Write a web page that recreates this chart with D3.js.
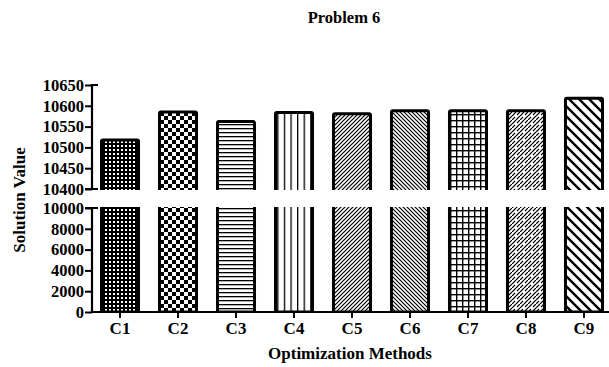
<!DOCTYPE html>
<html><head><meta charset="utf-8">
<script src="https://cdn.jsdelivr.net/npm/d3@7"></script>
<style>body{margin:0;background:#fff}svg{display:block}text{font-family:"Liberation Serif","Times New Roman",serif;font-weight:bold;fill:#000}</style>
</head><body><svg id="c" width="609" height="367"></svg>
<script>
const categories = ["C1","C2","C3","C4","C5","C6","C7","C8","C9"];
const values = [10518, 10585, 10562, 10584, 10581, 10588, 10588, 10588, 10618];
const patterns = ["dots","checker","hlines","vlines","fdiag","bdiag","grid","fdiag2","bdiagwide"];
const upperTicks = [10400,10450,10500,10550,10600,10650];
const lowerTicks = [0,2000,4000,6000,8000,10000];
const title = "Problem 6", xTitle = "Optimization Methods", yTitle = "Solution Value";

const svg = d3.select("#c");
const x = d3.scaleBand().domain(categories).range([92,612]).paddingInner(0.31).paddingOuter(0.138);
const yTop = d3.scaleLinear().domain([10400,10650]).range([189,85]);
const yBot = d3.scaleLinear().domain([0,10000]).range([312,208]);

const defs = svg.append("defs");
function pat(id, size, build, bg){
  const p = defs.append("pattern").attr("id",id).attr("patternUnits","userSpaceOnUse").attr("width",size).attr("height",size);
  p.append("rect").attr("width",size).attr("height",size).attr("fill",bg||"#fff");
  build(p);
}
pat("dots",4,p=>{p.append("rect").attr("x",1).attr("y",1).attr("width",2).attr("height",2).attr("fill","#fff");},"#000");
pat("checker",8,p=>{p.append("rect").attr("width",4).attr("height",4).attr("fill","#000");p.append("rect").attr("x",4).attr("y",4).attr("width",4).attr("height",4).attr("fill","#000");});
pat("hlines",4,p=>{p.append("rect").attr("y",0).attr("width",4).attr("height",1.3).attr("fill","#000");});
pat("vlines",6.6,p=>{p.append("rect").attr("x",0).attr("width",1.3).attr("height",6.6).attr("fill","#000");});
pat("fdiag",4,p=>{p.append("path").attr("d","M-1,1L1,-1M0,4L4,0M3,5L5,3").attr("stroke","#000").attr("stroke-width",1.2);});
pat("bdiag",4,p=>{p.append("path").attr("d","M-1,3L1,5M0,0L4,4M3,-1L5,1").attr("stroke","#000").attr("stroke-width",1.2);});
pat("grid",6,p=>{p.append("rect").attr("width",6).attr("height",1.4).attr("fill","#000");p.append("rect").attr("width",1.4).attr("height",6).attr("fill","#000");});
pat("fdiag2",8,p=>{p.append("path").attr("d","M0,4L4,0M4,8L8,4M-1,9L3,5M5,3L9,-1").attr("stroke","#000").attr("stroke-width",1.2);});
pat("bdiagwide",10,p=>{p.append("path").attr("d","M-2,8L2,12M0,0L10,10M8,-2L12,2").attr("stroke","#000").attr("stroke-width",2.4);});

defs.append("clipPath").attr("id","clipU").append("rect").attr("x",0).attr("y",0).attr("width",609).attr("height",yTop(10400)+1);
defs.append("clipPath").attr("id","clipL").append("rect").attr("x",0).attr("y",yBot(10000)-1).attr("width",609).attr("height",312-yBot(10000)+1);

const data = categories.map((c,i)=>({c,v:values[i],p:patterns[i]}));
const gU = svg.append("g").attr("clip-path","url(#clipU)");
gU.selectAll("rect").data(data).join("rect")
  .attr("x",d=>x(d.c)+1.5).attr("width",x.bandwidth()-3)
  .attr("y",d=>yTop(d.v)).attr("height",d=>yTop(10400)+10-yTop(d.v))
  .attr("fill",d=>`url(#${d.p})`).attr("stroke","#000").attr("stroke-width",3).attr("rx",1.5);
const gL = svg.append("g").attr("clip-path","url(#clipL)");
gL.selectAll("rect").data(data).join("rect")
  .attr("x",d=>x(d.c)+1.5).attr("width",x.bandwidth()-3)
  .attr("y",yBot(10000)-10).attr("height",yBot(0)-yBot(10000)+10)
  .attr("fill",d=>`url(#${d.p})`).attr("stroke","#000").attr("stroke-width",3);

const axU = svg.append("g").attr("transform","translate(92,0)")
  .call(d3.axisLeft(yTop).tickValues(upperTicks).tickSize(7).tickPadding(1).tickFormat(d3.format("d")));
const axL = svg.append("g").attr("transform","translate(92,0)")
  .call(d3.axisLeft(yBot).tickValues(lowerTicks).tickSize(7).tickPadding(1).tickFormat(d3.format("d")));
[axU,axL].forEach(a=>{
  a.select(".domain").remove();
  a.selectAll("line").attr("stroke","#000").attr("stroke-width",2);
  a.selectAll("text").attr("font-size",16.5).style("font-family","Liberation Serif").style("font-weight","bold");
});
svg.append("line").attr("x1",92).attr("x2",92).attr("y1",yTop(10650)-1).attr("y2",yTop(10400)).attr("stroke","#000").attr("stroke-width",2.2);
svg.append("line").attr("x1",92).attr("x2",92).attr("y1",yBot(10000)).attr("y2",yBot(0)).attr("stroke","#000").attr("stroke-width",2.2);
svg.append("line").attr("x1",85).attr("x2",98).attr("y1",yTop(10400)).attr("y2",yTop(10400)).attr("stroke","#000").attr("stroke-width",2);
svg.append("line").attr("x1",85).attr("x2",98).attr("y1",yBot(10000)).attr("y2",yBot(10000)).attr("stroke","#000").attr("stroke-width",2);
svg.append("line").attr("x1",92).attr("x2",98).attr("y1",yTop(10650)).attr("y2",yTop(10650)).attr("stroke","#000").attr("stroke-width",2);

const axX = svg.append("g").attr("transform","translate(0,312)")
  .call(d3.axisBottom(x).tickSize(6).tickPadding(4));
axX.select(".domain").attr("d","M92,0H612").attr("stroke","#000").attr("stroke-width",2.2);
axX.selectAll("line").attr("stroke","#000").attr("stroke-width",2);
axX.selectAll("text").attr("font-size",17).style("font-family","Liberation Serif").style("font-weight","bold");

svg.append("text").attr("x",344).attr("y",23).attr("text-anchor","middle").attr("font-size",16.5).text(title);
svg.append("text").attr("x",350).attr("y",359).attr("text-anchor","middle").attr("font-size",17).text(xTitle);
svg.append("text").attr("transform","translate(25,200) rotate(-90)").attr("text-anchor","middle").attr("font-size",17).text(yTitle);
</script></body></html>
